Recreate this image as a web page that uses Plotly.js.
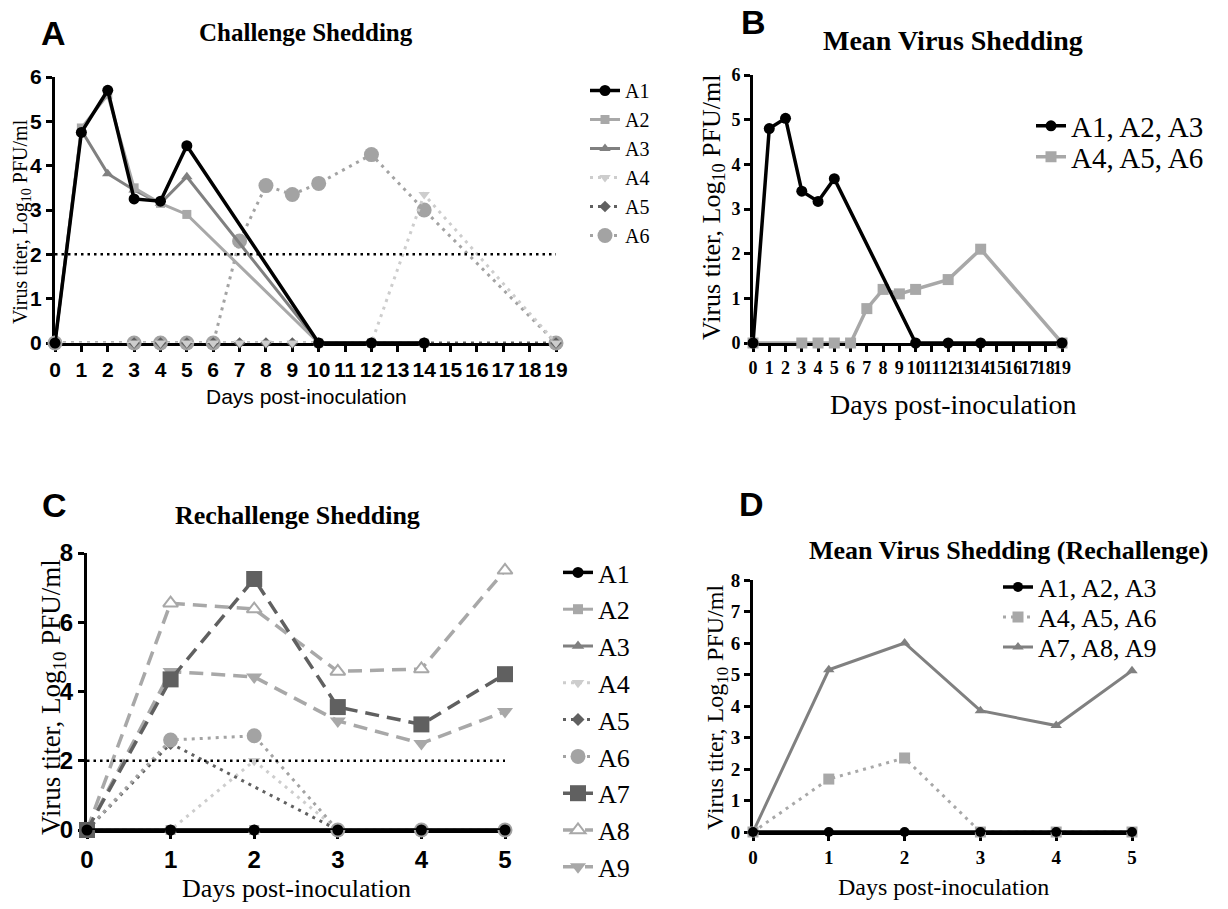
<!DOCTYPE html>
<html>
<head>
<meta charset="utf-8">
<script src="https://cdn.plot.ly/plotly-3.0.1.min.js"></script>
<style>html,body{margin:0;padding:0;background:#fff;}#chart{width:1228px;height:909px;}</style>
</head>
<body>
<div id="chart"></div>
<script>
// ---------- Panel A: Challenge Shedding ----------
const aDaysEarly = [0, 1, 2, 3, 4, 5, 10, 12, 14];
const aA1 = [0, 4.75, 5.7, 3.25, 3.2, 4.45, 0, 0, 0];
const aA2 = [0, 4.85, 5.6, 3.5, 3.15, 2.9, 0, 0, 0];
const aA3 = [0, 4.8, 3.82, 3.45, 3.15, 3.75, 0, 0, 0];
const aDaysLate = [0, 3, 4, 5, 6, 7, 8, 9, 10, 12, 14, 19];
const aA4 = [0, 0, 0, 0, 0, 0, 0, 0, 0, 0, 3.35, 0];
const aA5 = [0, 0, 0, 0, 0, 0, 0, 0, 0, 0, 0, 0];
const aA6 = [0, 0, 0, 0, 0, 2.3, 3.55, 3.35, 3.6, 4.25, 3.0, 0];
const aTickDays = [0,1,2,3,4,5,6,7,8,9,10,11,12,13,14,15,16,17,18,19];

// ---------- Panel B: Mean Virus Shedding ----------
const bDays1 = [0, 1, 2, 3, 4, 5, 10, 12, 14, 19];
const bMeanA1A3 = [0, 4.8, 5.03, 3.4, 3.17, 3.68, 0, 0, 0, 0];
const bDays2 = [0, 3, 4, 5, 6, 7, 8, 9, 10, 12, 14, 19];
const bMeanA4A6 = [0, 0, 0, 0, 0, 0.77, 1.2, 1.1, 1.2, 1.42, 2.1, 0];

// ---------- Panel C: Rechallenge Shedding ----------
const cDays = [0, 1, 2, 3, 4, 5];
const cA1 = [0, 0, 0, 0, 0, 0];
const cA2 = [0, 0, 0, 0, 0, 0];
const cA3 = [0, 0, 0, 0, 0, 0];
const cA4 = [0, 0, 2.0, 0, 0, 0];
const cDaysA5 = [0, 1, 3, 4, 5];
const cA5 = [0, 2.5, 0, 0, 0];
const cA6 = [0, 2.6, 2.72, 0, 0, 0];
const cA7 = [0, 4.35, 7.25, 3.55, 3.05, 4.5];
const cA8 = [0, 6.55, 6.38, 4.58, 4.65, 7.5];
const cA9 = [0, 4.58, 4.42, 3.15, 2.5, 3.42];

// ---------- Panel D: Mean Virus Shedding (Rechallenge) ----------
const dDays = [0, 1, 2, 3, 4, 5];
const dMeanA1A3 = [0, 0, 0, 0, 0, 0];
const dMeanA4A6 = [0, 1.68, 2.35, 0, 0, 0];
const dMeanA7A9 = [0, 5.15, 6.0, 3.85, 3.38, 5.12];

const threshold = 2;

// ---------- styles ----------
const SERIF = 'Liberation Serif, Times New Roman, serif';
const SANS = 'Liberation Sans, Arial, sans-serif';
const BLACK = '#000000', LGRAY = '#a8a8a8', MGRAY = '#808080', VLGRAY = '#cdcdcd', DGRAY = '#606060', CGRAY = '#a3a3a3';
const DOT = '3px,5px';
const DASH = '14px,8px';

function tr(x, y, name, color, symbol, size, dash, width, xa, ya, legend, rank, extra) {
  const t = {
    type: 'scatter', mode: 'lines+markers', x: x, y: y, name: name,
    xaxis: xa, yaxis: ya, legend: legend, legendrank: rank, cliponaxis: false,
    line: {color: color, width: width, dash: dash},
    marker: {color: color, symbol: symbol, size: size, line: {width: 0}},
    hoverinfo: 'x+y+name'
  };
  if (extra) Object.assign(t, extra);
  return t;
}

const traces = [
  // Panel A (drawn bottom to top)
  tr(aDaysLate, aA6, 'A6', CGRAY, 'circle', 15, DOT, 3, 'x', 'y', 'legend', 6, {legendgroup: 'a6'}),
  tr(aDaysLate, aA5, 'A5', DGRAY, 'diamond', 9, DOT, 3, 'x', 'y', 'legend', 5, {legendgroup: 'a5'}),
  tr(aDaysLate, aA4, 'A4', VLGRAY, 'triangle-down', 10, DOT, 3, 'x', 'y', 'legend', 4, {legendgroup: 'a4'}),
  tr(aDaysEarly, aA3, 'A3', MGRAY, 'triangle-up', 10, 'solid', 3, 'x', 'y', 'legend', 3, {legendgroup: 'a3'}),
  tr(aDaysEarly, aA2, 'A2', LGRAY, 'square', 9, 'solid', 3, 'x', 'y', 'legend', 2, {legendgroup: 'a2'}),
  tr(aDaysEarly, aA1, 'A1', BLACK, 'circle', 11, 'solid', 3.5, 'x', 'y', 'legend', 1, {legendgroup: 'a1'}),
  {type: 'scatter', mode: 'lines', x: [aTickDays[0], aTickDays[aTickDays.length - 1]], y: [threshold, threshold],
   xaxis: 'x', yaxis: 'y', showlegend: false, hoverinfo: 'skip', cliponaxis: false,
   line: {color: BLACK, width: 2.5, dash: '2.5px,4px'}},

  // Panel B
  tr(bDays2, bMeanA4A6, 'A4, A5, A6', LGRAY, 'square', 11, 'solid', 3.5, 'x2', 'y2', 'legend5', 2),
  tr(bDays1, bMeanA1A3, 'A1, A2, A3', BLACK, 'circle', 11, 'solid', 3.5, 'x2', 'y2', 'legend2', 1),

  // Panel C
  tr(cDays, cA2, 'A2', LGRAY, 'square', 10, 'solid', 3, 'x3', 'y3', 'legend3', 2),
  tr(cDays, cA3, 'A3', MGRAY, 'triangle-up', 11, 'solid', 3, 'x3', 'y3', 'legend3', 3),
  tr(cDays, cA4, 'A4', VLGRAY, 'triangle-down', 11, DOT, 3, 'x3', 'y3', 'legend3', 4),
  tr(cDaysA5, cA5, 'A5', DGRAY, 'diamond', 10, DOT, 3, 'x3', 'y3', 'legend3', 5),
  tr(cDays, cA6, 'A6', CGRAY, 'circle', 15, DOT, 3, 'x3', 'y3', 'legend3', 6),
  tr(cDays, cA9, 'A9', LGRAY, 'triangle-down', 14, DASH, 3.5, 'x3', 'y3', 'legend3', 9),
  tr(cDays, cA8, 'A8', LGRAY, 'triangle-up', 13, DASH, 3.5, 'x3', 'y3', 'legend3', 8,
     {marker: {color: '#ffffff', symbol: 'triangle-up', size: 13, line: {color: LGRAY, width: 2}}}),
  tr(cDays, cA7, 'A7', DGRAY, 'square', 16, DASH, 3.5, 'x3', 'y3', 'legend3', 7),
  tr(cDays, cA1, 'A1', BLACK, 'circle', 11, 'solid', 3.5, 'x3', 'y3', 'legend3', 1),
  {type: 'scatter', mode: 'lines', x: [cDays[0], cDays[cDays.length - 1]], y: [threshold, threshold],
   xaxis: 'x3', yaxis: 'y3', showlegend: false, hoverinfo: 'skip', cliponaxis: false,
   line: {color: BLACK, width: 2.5, dash: '2.5px,4px'}},

  // Panel D
  tr(dDays, dMeanA7A9, 'A7, A8, A9', MGRAY, 'triangle-up', 10, 'solid', 3, 'x4', 'y4', 'legend7', 3),
  tr(dDays, dMeanA4A6, 'A4, A5, A6', LGRAY, 'square', 11, DOT, 3, 'x4', 'y4', 'legend6', 2),
  tr(dDays, dMeanA1A3, 'A1, A2, A3', BLACK, 'circle', 10, 'solid', 3.5, 'x4', 'y4', 'legend4', 1)
];

const W = 1228, H = 909;
const px = v => v / W;
const py = v => 1 - v / H;

function axis(domain, range, tickvals, font, anchor) {
  return {
    domain: domain, range: range, anchor: anchor, tickvals: tickvals, ticktext: tickvals.map(String),
    showgrid: false, zeroline: false, showline: true, linecolor: '#000', linewidth: 3,
    ticks: 'outside', ticklen: 6, tickwidth: 3, tickcolor: '#000', layer: 'below traces',
    tickfont: font, tickangle: 0, fixedrange: true, automargin: false
  };
}

const fA = {family: SANS, size: 21, color: '#000', weight: 'bold'};
const fB = {family: SERIF, size: 18, color: '#000', weight: 'bold'};
const fC = {family: SANS, size: 24, color: '#000', weight: 'bold'};
const fD = {family: SERIF, size: 19, color: '#000', weight: 'bold'};

function ann(x, y, text, font, angle) {
  return {xref: 'paper', yref: 'paper', x: px(x), y: py(y), text: text, showarrow: false,
          xanchor: 'center', yanchor: 'middle', font: font, textangle: angle || 0};
}
function leg(x, yc, size, extra) {
  const l = {x: px(x), y: py(yc), xanchor: 'left', yanchor: 'middle', bgcolor: 'rgba(0,0,0,0)',
             font: {family: SERIF, size: size, color: '#000'}, itemwidth: 30, traceorder: 'normal'};
  if (extra) Object.assign(l, extra);
  return l;
}
const yTitle = 'Virus titer, Log<sub>10</sub> PFU/ml';
const xTitle = 'Days post-inoculation';

const layout = {
  width: W, height: H, margin: {l: 0, r: 0, t: 0, b: 0},
  paper_bgcolor: '#fff', plot_bgcolor: 'rgba(0,0,0,0)',
  xaxis: axis([px(55), px(556)], [0, 19], aTickDays, fA, 'y'),
  yaxis: axis([py(343), py(77)], [0, 6], [0,1,2,3,4,5,6], fA, 'x'),
  xaxis2: axis([px(753), px(1062)], [0, 19], aTickDays, fB, 'y2'),
  yaxis2: axis([py(343), py(75)], [0, 6], [0,1,2,3,4,5,6], fB, 'x2'),
  xaxis3: axis([px(87), px(505)], [0, 5], cDays, fC, 'y3'),
  yaxis3: axis([py(830), py(553)], [0, 8], [0,2,4,6,8], fC, 'x3'),
  xaxis4: axis([px(753), px(1132)], [0, 5], dDays, fD, 'y4'),
  yaxis4: axis([py(832), py(580)], [0, 8], [0,1,2,3,4,5,6,7,8], fD, 'x4'),
  legend: {x: px(585), y: py(71), xanchor: 'left', yanchor: 'top', bgcolor: 'rgba(0,0,0,0)',
           font: {family: SERIF, size: 20, color: '#000'}, itemwidth: 30, tracegroupgap: 7.5, traceorder: 'normal'},
  legend2: leg(1031, 126, 29),
  legend5: leg(1031, 157, 29),
  legend3: leg(558, 720, 26),
  legend4: leg(998, 587, 26),
  legend6: leg(998, 617, 26),
  legend7: leg(998, 647, 26),
  annotations: [
    ann(53, 33, 'A', {family: SANS, size: 34, color: '#000', weight: 'bold'}),
    ann(753, 22, 'B', {family: SANS, size: 34, color: '#000', weight: 'bold'}),
    ann(54, 505, 'C', {family: SANS, size: 34, color: '#000', weight: 'bold'}),
    ann(751, 504, 'D', {family: SANS, size: 34, color: '#000', weight: 'bold'}),
    ann(306, 33, 'Challenge Shedding', {family: SERIF, size: 25, color: '#000', weight: 'bold'}),
    ann(953, 40, 'Mean Virus Shedding', {family: SERIF, size: 28, color: '#000', weight: 'bold'}),
    ann(297, 515, 'Rechallenge Shedding', {family: SERIF, size: 26, color: '#000', weight: 'bold'}),
    ann(1008, 550, 'Mean Virus Shedding (Rechallenge)', {family: SERIF, size: 26, color: '#000', weight: 'bold'}),
    ann(306, 397, xTitle, {family: SANS, size: 21, color: '#000'}),
    ann(953, 405, xTitle, {family: SERIF, size: 28, color: '#000'}),
    ann(296, 888, xTitle, {family: SERIF, size: 26, color: '#000'}),
    ann(943, 887, xTitle, {family: SERIF, size: 24, color: '#000'}),
    ann(21, 222, yTitle, {family: SERIF, size: 20, color: '#000'}, -90),
    ann(713, 207, yTitle, {family: SERIF, size: 26, color: '#000'}, -90),
    ann(53, 697, yTitle, {family: SERIF, size: 27, color: '#000'}, -90),
    ann(717, 708, yTitle, {family: SERIF, size: 24, color: '#000'}, -90)
  ],
  showlegend: true
};

Plotly.newPlot('chart', traces, layout, {displayModeBar: false, staticPlot: false, responsive: false});
</script>
</body>
</html>
